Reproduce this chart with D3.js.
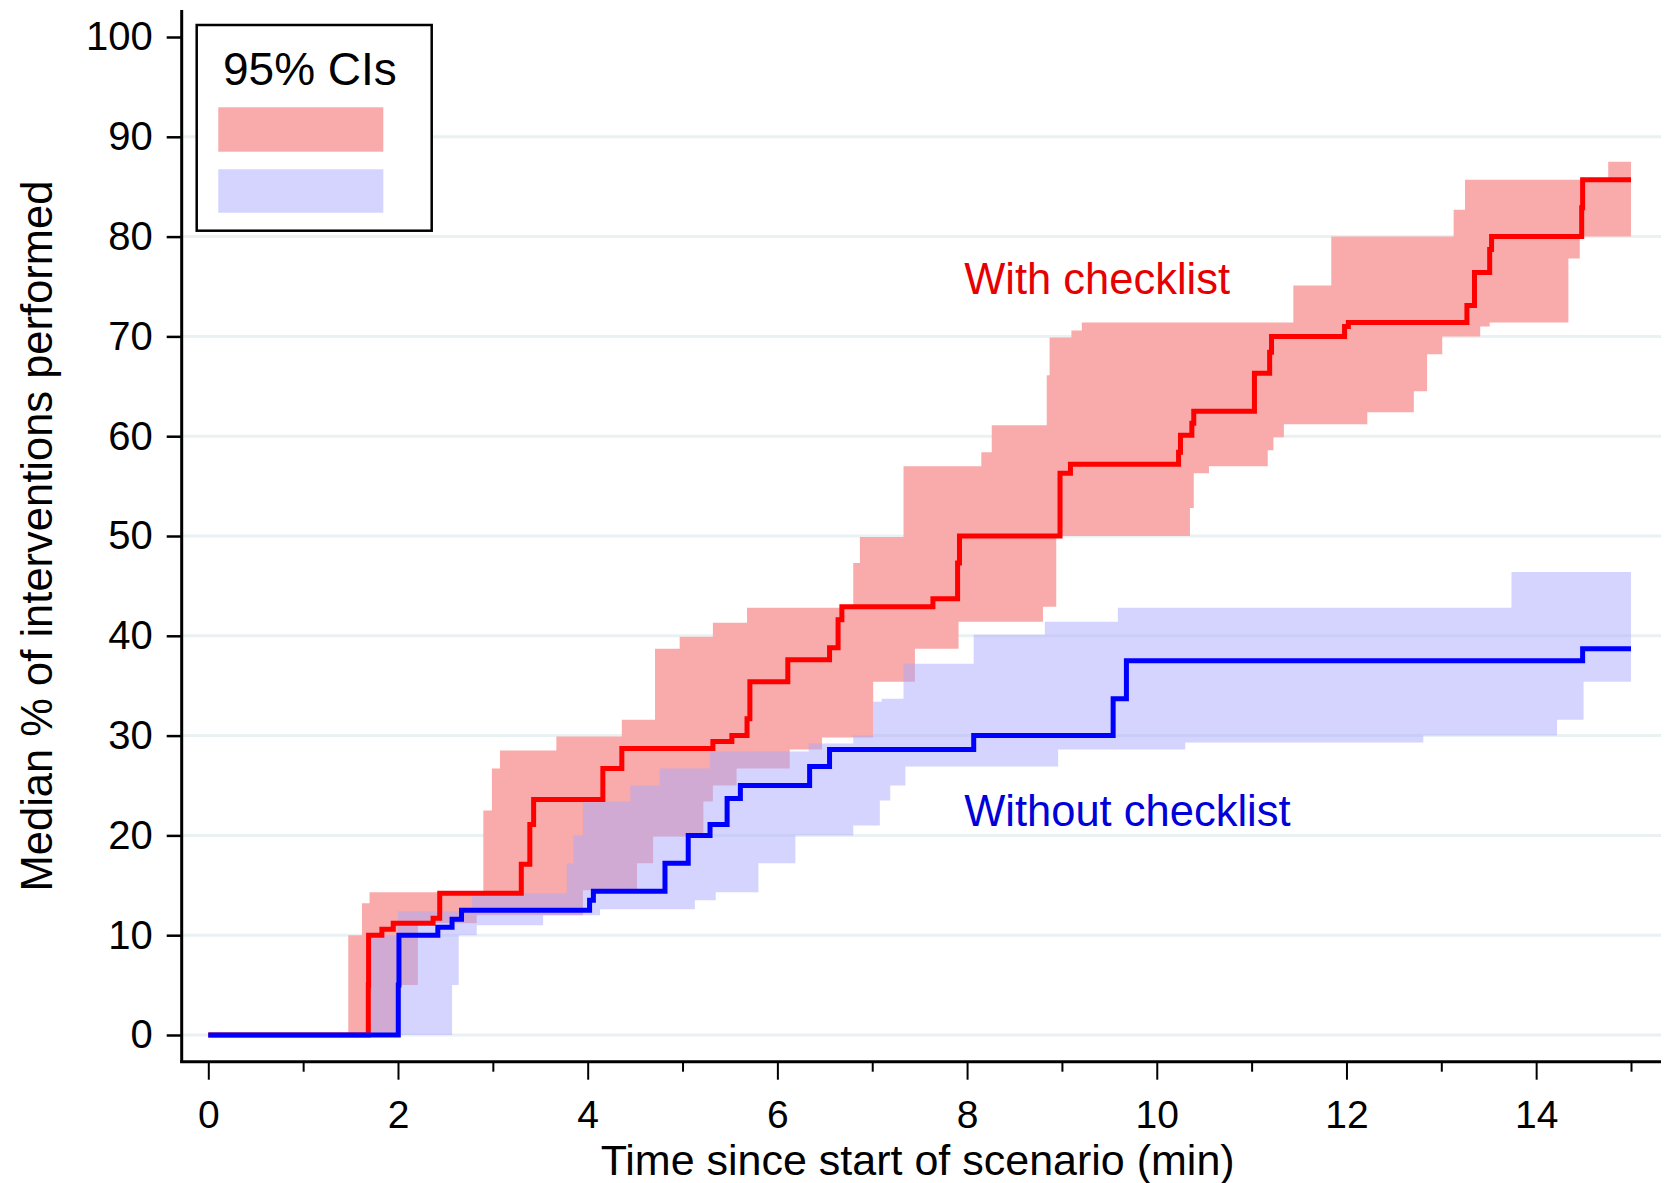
<!DOCTYPE html>
<html>
<head>
<meta charset="utf-8">
<script src="https://cdn.jsdelivr.net/npm/d3@7"></script>
<style>
  body { margin: 0; background: #fff; }
  svg { display: block; font-family: "Liberation Sans", Arial, sans-serif; }
</style>
</head>
<body>
<script>
// median curves, [minutes, %]
const withLine = [[0,0],[1.687,5],[1.69,10],[1.83,10.6],[1.95,11.2],[2.37,11.7],[2.44,14.2],[3.30,17.1],[3.39,21.1],[3.43,23.6],[4.16,26.7],[4.36,28.7],[5.32,29.4],[5.52,30.0],[5.68,31.7],[5.71,35.4],[6.11,37.6],[6.55,38.8],[6.64,41.6],[6.68,42.9],[7.64,43.7],[7.90,47.3],[7.92,50.0],[8.98,56.3],[9.09,57.2],[10.23,58.4],[10.25,60.1],[10.37,61.3],[10.39,62.5],[11.03,66.3],[11.19,68.4],[11.21,70.0],[11.98,71.0],[12.02,71.4],[13.27,73.1],[13.35,76.4],[13.51,78.7],[13.53,80.0],[14.48,82.9],[14.49,85.7],[15.0,85.7]];
const withoutLine = [[0,0],[2.003,5],[2.01,10],[2.42,10.8],[2.57,11.6],[2.67,12.5],[4.02,13.5],[4.06,14.4],[4.815,17.2],[5.06,20],[5.29,21.1],[5.47,23.7],[5.61,25],[6.34,26.9],[6.55,28.6],[8.07,30],[9.54,33.7],[9.68,37.5],[14.49,38.7],[15.0,38.7]];

// 95% CI bounds
const withUpper = [[1.476,10],[1.62,13.2],[1.70,14.3],[2.90,22.5],[2.99,26.7],[3.075,28.5],[3.67,29.9],[4.36,31.6],[4.71,38.7],[4.97,39.9],[5.32,41.3],[5.68,42.8],[6.80,47.3],[6.87,49.9],[7.33,57.0],[8.15,58.4],[8.26,61.1],[8.84,66.1],[8.87,69.9],[9.10,70.6],[9.21,71.4],[11.44,75.1],[11.84,80],[13.13,82.7],[13.25,85.7],[14.76,87.5],[15.0,87.5]];
const withLower = [[1.476,0],[2.0,5],[2.21,11.2],[2.83,12],[3.95,14.5],[4.52,17.2],[4.69,19.9],[5.22,23.4],[5.32,25],[5.57,26.7],[6.13,28.6],[6.47,29.8],[7.01,35.4],[7.45,38.7],[7.91,41.4],[8.80,42.9],[8.94,50],[10.35,52.8],[10.39,56.3],[10.55,57.0],[11.17,58.6],[11.23,59.9],[11.34,61.2],[12.22,62.4],[12.71,64.5],[12.85,68.2],[13.01,70.0],[13.41,71.0],[13.51,71.4],[14.34,77.8],[14.46,80],[15.0,80]];
const withoutUpper = [[1.72,10],[2.0,12.4],[2.78,14.2],[3.78,17.2],[3.85,20],[3.95,23.4],[4.45,25],[4.76,26.7],[5.29,28.4],[6.33,29.2],[6.80,30],[7.01,33.4],[7.10,33.7],[7.33,37.2],[8.07,40.1],[8.82,41.4],[9.59,42.8],[13.74,46.4],[15.0,46.4]];
const withoutLower = [[1.72,0],[2.57,5],[2.64,10],[2.83,11],[3.53,12],[4.13,12.6],[5.13,13.5],[5.35,14.3],[5.80,17.2],[6.19,20],[6.80,21],[7.08,23.5],[7.19,25],[7.35,26.9],[8.96,28.6],[10.30,29.3],[12.81,30],[14.22,31.6],[14.50,35.4],[15.0,35.4]];

const yTicks = [0,10,20,30,40,50,60,70,80,90,100];
const xMajor = [0,2,4,6,8,10,12,14];
const xMinor = [1,3,5,7,9,11,13,15];

const width = 1675, height = 1183;

const x = d3.scaleLinear().domain([0, 15]).range([208.3, 1631]);
const y = d3.scaleLinear().domain([0, 100]).range([1035, 37]);

const svg = d3.select("body").append("svg")
    .attr("width", width)
    .attr("height", height);

// gridlines
svg.append("g").selectAll("line")
    .data(yTicks.filter(d => d < 100))
    .enter().append("line")
    .attr("x1", 183).attr("x2", 1661)
    .attr("y1", d => y(d)).attr("y2", d => y(d))
    .style("stroke", "#eaf1f3")
    .style("stroke-width", 3);

// value of a step function at t
function stepAt(pts, t) {
    let v = pts[0][1];
    for (const p of pts) {
        if (p[0] <= t) v = p[1]; else break;
    }
    return v;
}
function band(lower, upper) {
    const ts = Array.from(new Set(lower.concat(upper).map(d => d[0]))).sort((a, b) => a - b);
    return ts.map(t => ({ t: t, lo: stepAt(lower, t), hi: stepAt(upper, t) }));
}

const area = d3.area()
    .x(d => x(d.t))
    .y0(d => y(d.lo))
    .y1(d => y(d.hi))
    .curve(d3.curveStepAfter);

svg.append("path")
    .attr("d", area(band(withLower, withUpper)))
    .style("fill", "#f9aaaa");

svg.append("path")
    .attr("d", area(band(withoutLower, withoutUpper)))
    .style("fill", "rgb(170,170,253)")
    .style("fill-opacity", 0.5);

const line = d3.line()
    .x(d => x(d[0]))
    .y(d => y(d[1]))
    .curve(d3.curveStepAfter);

svg.append("path")
    .attr("d", line(withLine))
    .style("fill", "none")
    .style("stroke", "#ff0000")
    .style("stroke-width", 5);

svg.append("path")
    .attr("d", line(withoutLine))
    .style("fill", "none")
    .style("stroke", "#0000ff")
    .style("stroke-width", 5);

// y axis
const yAxis = svg.append("g")
    .attr("transform", "translate(181.7,0)")
    .call(d3.axisLeft(y).tickValues(yTicks).tickSize(15).tickPadding(14));
yAxis.select(".domain").remove();
yAxis.selectAll(".tick line").style("stroke", "#000").style("stroke-width", 2.5);
yAxis.selectAll(".tick text").style("font-size", "40px").style("fill", "#000")
    .style("font-family", "'Liberation Sans', Arial, sans-serif");

// x axis, minor then major ticks
const xAxisMinor = svg.append("g")
    .attr("transform", "translate(0,1061.7)")
    .call(d3.axisBottom(x).tickValues(xMinor).tickSize(10).tickFormat(""));
xAxisMinor.select(".domain").remove();
xAxisMinor.selectAll(".tick line").style("stroke", "#000").style("stroke-width", 2);

const xAxis = svg.append("g")
    .attr("transform", "translate(0,1061.7)")
    .call(d3.axisBottom(x).tickValues(xMajor).tickSize(18).tickPadding(21));
xAxis.select(".domain").remove();
xAxis.selectAll(".tick line").style("stroke", "#000").style("stroke-width", 2);
xAxis.selectAll(".tick text").style("font-size", "39px").style("fill", "#000")
    .style("font-family", "'Liberation Sans', Arial, sans-serif");

// axis lines
svg.append("line")
    .attr("x1", 181.7).attr("x2", 181.7).attr("y1", 10).attr("y2", 1063)
    .style("stroke", "#000").style("stroke-width", 3);
svg.append("line")
    .attr("x1", 180.2).attr("x2", 1661).attr("y1", 1061.7).attr("y2", 1061.7)
    .style("stroke", "#000").style("stroke-width", 3);

// axis titles
svg.append("text")
    .attr("x", (208.3 + 1631) / 2 - 2)
    .attr("y", 1175)
    .attr("text-anchor", "middle")
    .style("font-size", "43px")
    .text("Time since start of scenario (min)");

svg.append("text")
    .attr("transform", "translate(52," + y(50) + ") rotate(-90)")
    .attr("text-anchor", "middle")
    .style("font-size", "43.5px")
    .text("Median % of interventions performed");

// series labels
svg.append("text")
    .attr("x", x(7.97)).attr("y", y(74.2))
    .style("font-size", "43.5px")
    .style("fill", "#e60000")
    .text("With checklist");

svg.append("text")
    .attr("x", x(7.97)).attr("y", y(20.9))
    .style("font-size", "43.5px")
    .style("fill", "#0000d8")
    .text("Without checklist");

// legend
const legend = svg.append("g");
legend.append("rect")
    .attr("x", 196.7).attr("y", 25).attr("width", 235).attr("height", 205.7)
    .style("fill", "#fff").style("stroke", "#000").style("stroke-width", 2.5);
legend.append("text")
    .attr("x", 223).attr("y", 85)
    .style("font-size", "46px")
    .text("95% CIs");
legend.append("rect")
    .attr("x", 218.3).attr("y", 107.3).attr("width", 165).attr("height", 44.4)
    .style("fill", "#f9aaaa");
legend.append("rect")
    .attr("x", 218.3).attr("y", 169.3).attr("width", 165).attr("height", 43.4)
    .style("fill", "rgb(170,170,253)").style("fill-opacity", 0.5);
</script>
</body>
</html>
